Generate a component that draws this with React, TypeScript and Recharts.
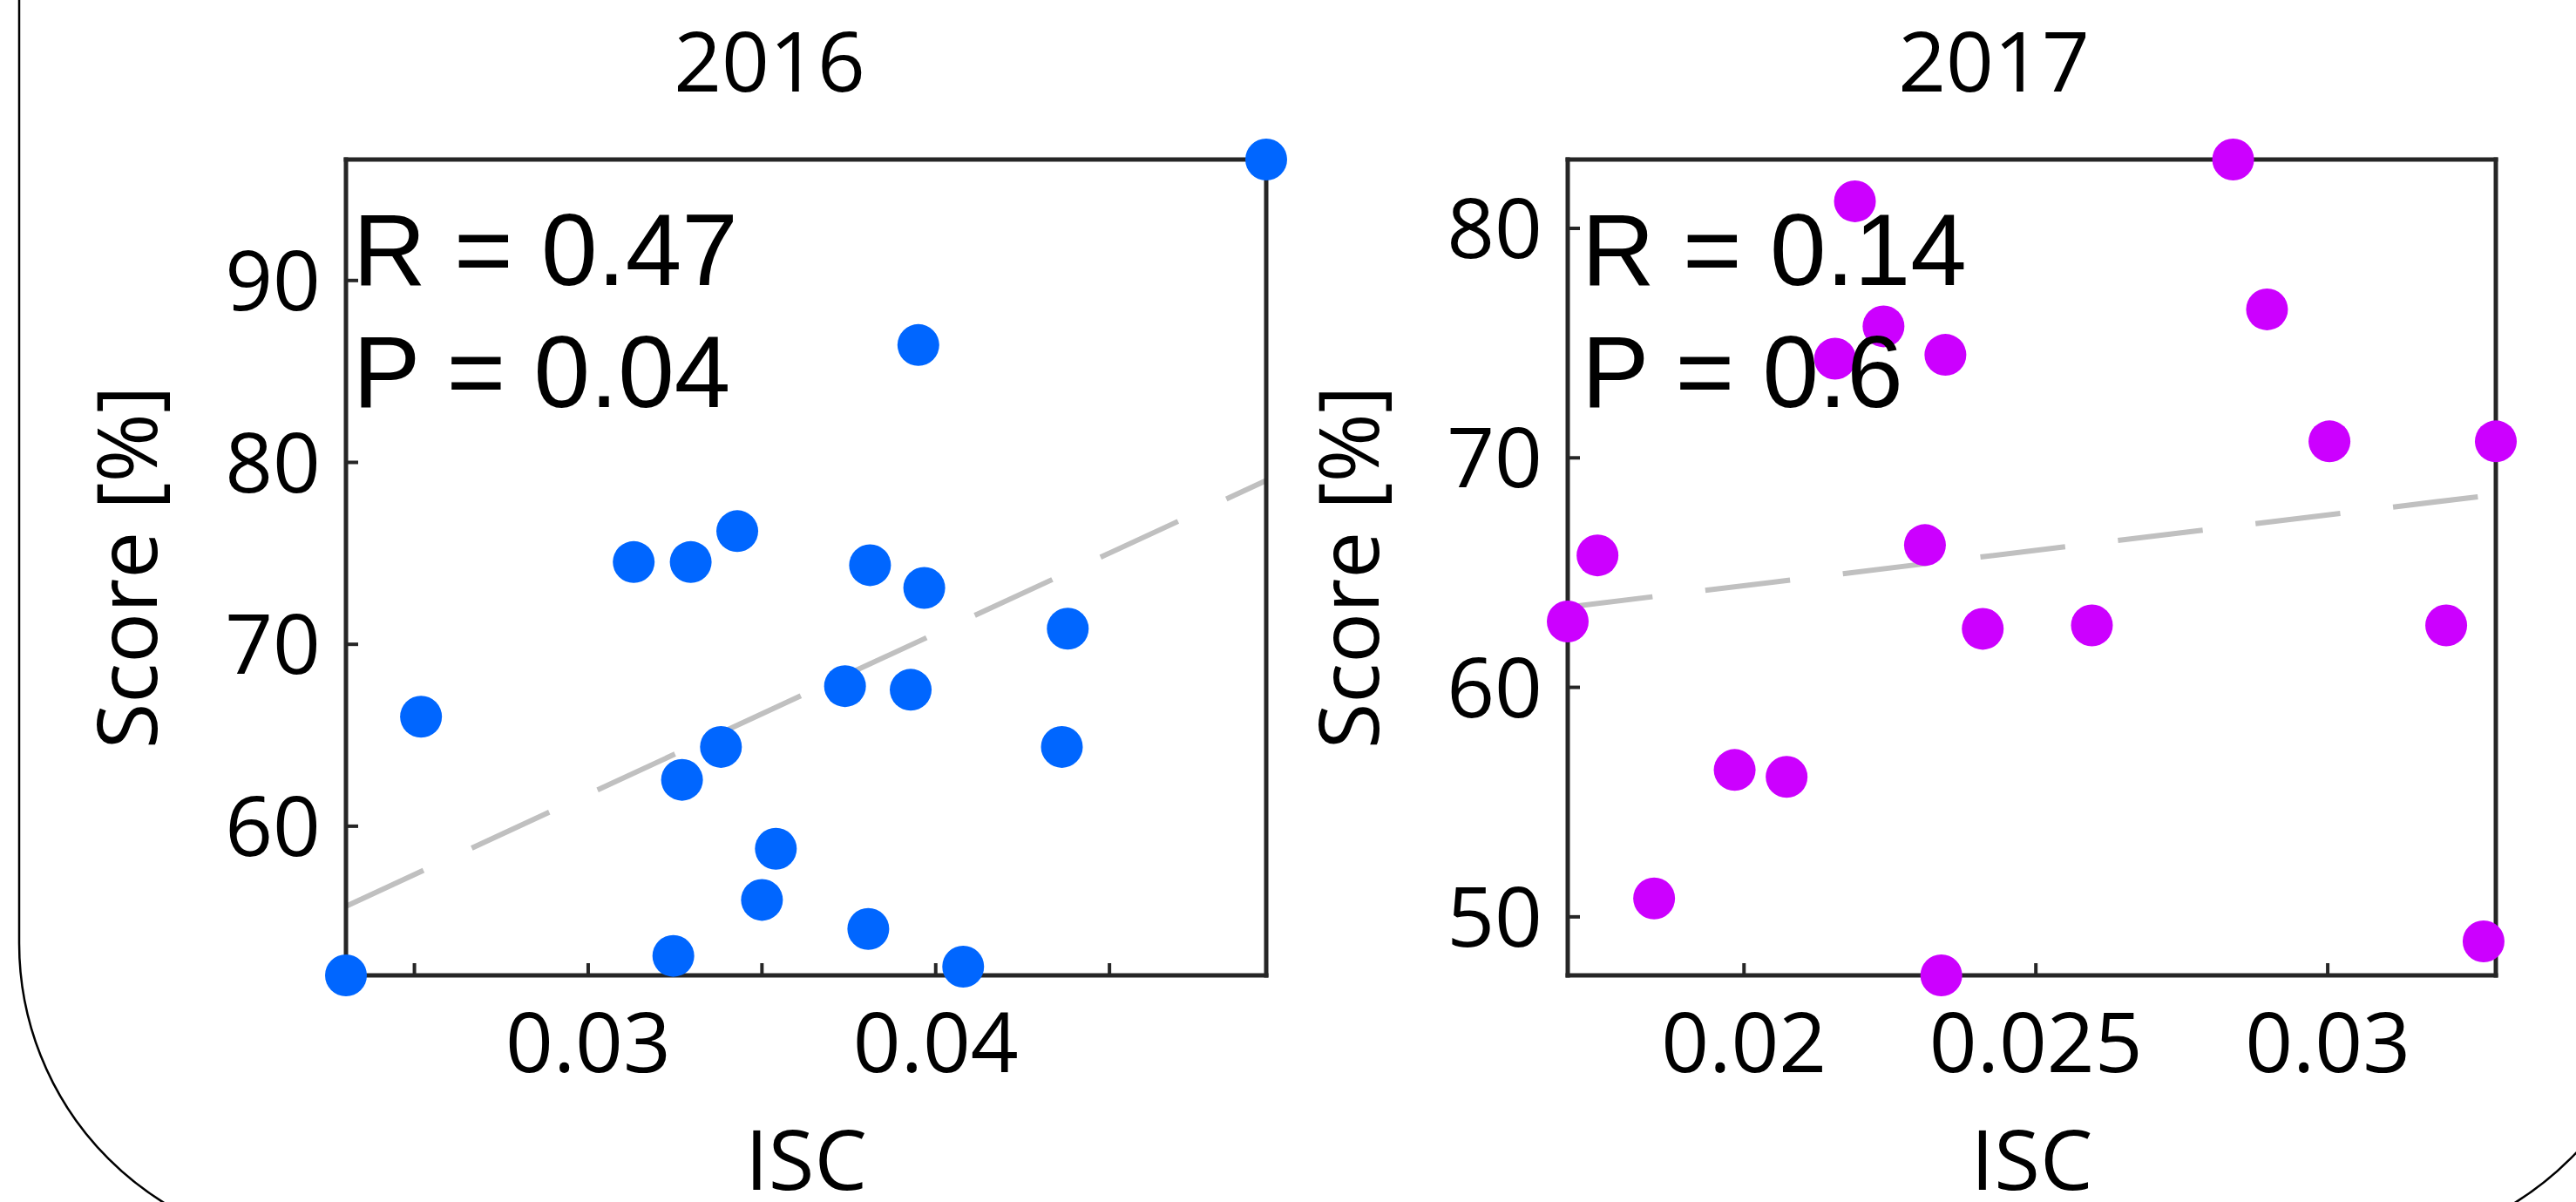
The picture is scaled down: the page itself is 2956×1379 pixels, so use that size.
import React from 'react';
import { ScatterChart, Scatter, XAxis, YAxis, ReferenceLine } from 'recharts';

// ---- Data ----
const ISC_2016 = [0.04951, 0.0395, 0.03131, 0.03295, 0.03429, 0.03811, 0.03967, 0.0438, 0.02519, 0.03739, 0.03928, 0.03382, 0.04363, 0.0327, 0.0354, 0.035, 0.03806, 0.03245, 0.04079, 0.02303];
const SCORE_2016 = [96.65, 86.45, 74.52, 74.52, 76.22, 74.35, 73.1, 70.86, 66.02, 67.7, 67.5, 64.36, 64.36, 62.55, 58.76, 55.95, 54.35, 52.87, 52.28, 51.8];

const ISC_2017 = [0.02838, 0.0219, 0.02156, 0.02239, 0.02345, 0.02896, 0.03003, 0.03288, 0.01749, 0.01698, 0.0231, 0.02409, 0.02596, 0.03203, 0.01984, 0.02073, 0.01846, 0.02338, 0.03267];
const SCORE_2017 = [83.0, 81.18, 74.32, 75.73, 74.49, 76.47, 70.72, 70.72, 65.75, 62.87, 66.2, 62.55, 62.7, 62.7, 56.4, 56.1, 50.8, 47.45, 48.93];

// trend line values (score at min ISC, score at max ISC)
const TREND_2016 = [55.6, 79.0];
const TREND_2017 = [63.5, 68.4];

const XTICKS_2016 = [0.025, 0.03, 0.035, 0.04, 0.045];
const XLABELS_2016 = [0.03, 0.04];
const YTICKS_2016 = [60, 70, 80, 90];

const XTICKS_2017 = [0.02, 0.025, 0.03];
const XLABELS_2017 = [0.02, 0.025, 0.03];
const YTICKS_2017 = [50, 60, 70, 80];

const TITLES = ['2016', '2017'];
const STATS_2016 = ['R = 0.47', 'P = 0.04'];
const STATS_2017 = ['R = 0.14', 'P = 0.6'];
const X_LABEL = 'ISC';
const Y_LABEL = 'Score [%]';

const BLUE = '#0066ff';
const PURPLE = '#cc00ff';
const AX = '#262626';
const SANS = '"Open Sans", "Noto Sans", sans-serif';
const ARIAL = '"Liberation Sans", Arial, sans-serif';

type PanelProps = {
  xs: number[];
  ys: number[];
  trend: number[];
  xTicks: number[];
  xLabels: number[];
  yTicks: number[];
  color: string;
  width: number;
  margin: { top: number; right: number; bottom: number; left: number };
};

function Panel({ xs, ys, trend, xTicks, xLabels, yTicks, color, width, margin }: PanelProps) {
  const data = xs.map((x, i) => ({ x, y: ys[i] }));
  const xMin = Math.min(...xs);
  const xMax = Math.max(...xs);
  const yMin = Math.min(...ys);
  const yMax = Math.max(...ys);
  const axisLine: any = { stroke: AX, strokeWidth: 5, strokeLinecap: 'square' };
  const tickLine: any = { stroke: AX, strokeWidth: 4 };
  const tickStyle: any = { fontFamily: SANS, fontSize: 96, fill: '#000' };
  const fmtX = (v: number) => (xLabels.includes(v) ? String(v) : '');
  const blank = () => '';
  return (
    <ScatterChart width={width} height={1379} margin={margin}>
      <XAxis
        xAxisId="b"
        type="number"
        dataKey="x"
        orientation="bottom"
        domain={[xMin, xMax]}
        ticks={xTicks}
        interval={0}
        tickFormatter={fmtX}
        height={100}
        tickSize={-14}
        tickMargin={57}
        axisLine={axisLine}
        tickLine={tickLine}
        tick={tickStyle}
      />
      <XAxis
        xAxisId="t"
        type="number"
        dataKey="x"
        orientation="top"
        domain={[xMin, xMax]}
        ticks={xTicks}
        interval={0}
        tickFormatter={blank}
        height={1}
        tickSize={-14}
        axisLine={axisLine}
        tickLine={tickLine}
        tick={tickStyle}
      />
      <YAxis
        yAxisId="l"
        type="number"
        dataKey="y"
        orientation="left"
        domain={[yMin, yMax]}
        ticks={yTicks}
        interval={0}
        width={100}
        tickSize={-14}
        tickMargin={43}
        axisLine={axisLine}
        tickLine={tickLine}
        tick={tickStyle}
      />
      <YAxis
        yAxisId="r"
        type="number"
        dataKey="y"
        orientation="right"
        domain={[yMin, yMax]}
        ticks={yTicks}
        interval={0}
        tickFormatter={blank}
        width={1}
        tickSize={-14}
        axisLine={axisLine}
        tickLine={tickLine}
        tick={tickStyle}
      />
      <Scatter
        xAxisId="b"
        yAxisId="l"
        data={data}
        fill={color}
        isAnimationActive={false}
        shape={(p: any) => <circle cx={p.cx} cy={p.cy} r={24} fill={color} />}
      />
      <ReferenceLine
        xAxisId="b"
        yAxisId="l"
        segment={[
          { x: xMin, y: trend[0] },
          { x: xMax, y: trend[1] },
        ]}
        stroke="#c0c0c0"
        strokeWidth={6}
        strokeDasharray="98 61"
        ifOverflow="visible"
      />
    </ScatterChart>
  );
}

export default function App() {
  return (
    <div style={{ position: 'absolute', left: 0, top: 0, width: 2956, height: 1379, background: '#fff', overflow: 'hidden' }}>
      <div style={{ position: 'absolute', left: 0, top: 0 }}>
        <Panel
          xs={ISC_2016}
          ys={SCORE_2016}
          trend={TREND_2016}
          xTicks={XTICKS_2016}
          xLabels={XLABELS_2016}
          yTicks={YTICKS_2016}
          color={BLUE}
          width={1500}
          margin={{ top: 182, right: 46, bottom: 160, left: 297 }}
        />
      </div>
      <div style={{ position: 'absolute', left: 1450, top: 0 }}>
        <Panel
          xs={ISC_2017}
          ys={SCORE_2017}
          trend={TREND_2017}
          xTicks={XTICKS_2017}
          xLabels={XLABELS_2017}
          yTicks={YTICKS_2017}
          color={PURPLE}
          width={1506}
          margin={{ top: 182, right: 91, bottom: 160, left: 249 }}
        />
      </div>
      <svg width={2956} height={1379} style={{ position: 'absolute', left: 0, top: 0, pointerEvents: 'none' }}>
        <rect x={22} y={-600} width={3030} height={2032} rx={350} ry={350} fill="none" stroke="#000" strokeWidth={2.5} />
        <g fontFamily={SANS} fontSize={96} fill="#000" textAnchor="middle">
          <text x={883} y={105}>{TITLES[0]}</text>
          <text x={2288} y={105}>{TITLES[1]}</text>
          <text x={925} y={1365}>{X_LABEL}</text>
          <text x={2331.5} y={1365}>{X_LABEL}</text>
          <text x={180} y={651} transform="rotate(-90 180 651)">{Y_LABEL}</text>
          <text x={1582} y={651} transform="rotate(-90 1582 651)">{Y_LABEL}</text>
        </g>
        <g fontFamily={ARIAL} fontSize={116} fill="#000">
          <text x={405} y={327}>{STATS_2016[0]}</text>
          <text x={405} y={467}>{STATS_2016[1]}</text>
          <text x={1815} y={327}>{STATS_2017[0]}</text>
          <text x={1815} y={467}>{STATS_2017[1]}</text>
        </g>
      </svg>
    </div>
  );
}
